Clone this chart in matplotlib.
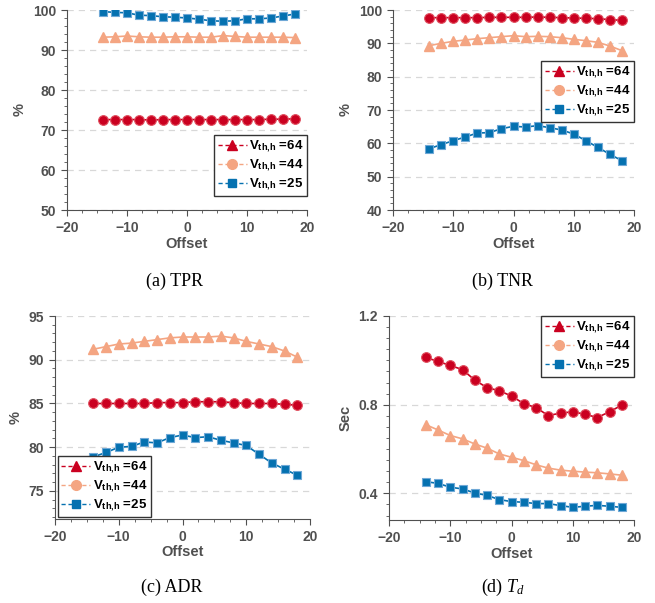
import numpy as np
import matplotlib.pyplot as plt
from matplotlib.lines import Line2D
from matplotlib.ticker import MultipleLocator

offset = [-14, -12, -10, -8, -6, -4, -2, 0, 2, 4, 6, 8, 10, 12, 14, 16, 18]

# (a) TPR
tpr_64 = [72.6, 72.6, 72.6, 72.6, 72.5, 72.6, 72.6, 72.6, 72.6, 72.6, 72.6, 72.6, 72.6, 72.6, 72.7, 72.7, 72.8]
tpr_44 = [93.2, 93.3, 93.5, 93.3, 93.2, 93.2, 93.3, 93.3, 93.2, 93.2, 93.6, 93.4, 93.2, 93.2, 93.2, 93.2, 93.1]
tpr_25 = [99.6, 99.4, 99.3, 98.7, 98.6, 98.3, 98.2, 98.0, 97.7, 97.3, 97.2, 97.3, 97.8, 97.8, 98.0, 98.5, 99.0]

# (b) TNR
tnr_64 = [97.7, 97.7, 97.7, 97.7, 97.7, 97.8, 97.8, 97.8, 97.8, 97.9, 97.8, 97.7, 97.6, 97.5, 97.4, 97.1, 96.9]
tnr_44 = [89.3, 90.0, 90.6, 91.0, 91.4, 91.7, 92.0, 92.3, 92.0, 92.1, 92.0, 91.7, 91.2, 90.8, 90.3, 89.2, 87.8]
tnr_25 = [58.4, 59.6, 60.8, 61.9, 63.1, 63.2, 64.4, 65.1, 64.9, 65.3, 64.7, 64.0, 62.8, 60.8, 58.8, 56.7, 54.8]

# (c) ADR
adr_64 = [85.0, 85.0, 85.0, 85.0, 85.0, 85.1, 85.1, 85.1, 85.2, 85.2, 85.2, 85.1, 85.0, 85.0, 85.0, 84.9, 84.8]
adr_44 = [91.2, 91.5, 91.8, 91.9, 92.1, 92.3, 92.5, 92.6, 92.6, 92.6, 92.7, 92.5, 92.1, 91.8, 91.5, 91.0, 90.3]
adr_25 = [78.9, 79.4, 80.0, 80.1, 80.6, 80.5, 81.1, 81.4, 81.1, 81.2, 80.8, 80.5, 80.2, 79.2, 78.2, 77.5, 76.8]

# (d) Td
td_64 = [1.013, 0.995, 0.977, 0.958, 0.911, 0.877, 0.863, 0.839, 0.805, 0.787, 0.751, 0.762, 0.768, 0.757, 0.742, 0.768, 0.798]
td_44 = [0.710, 0.686, 0.661, 0.646, 0.623, 0.604, 0.578, 0.563, 0.548, 0.529, 0.514, 0.505, 0.500, 0.496, 0.493, 0.488, 0.482]
td_25 = [0.453, 0.445, 0.428, 0.420, 0.402, 0.391, 0.372, 0.363, 0.360, 0.354, 0.354, 0.345, 0.337, 0.342, 0.346, 0.342, 0.337]

labels = [r'$\mathbf{V}_{\mathbf{th{,}h}}$ =64', r'$\mathbf{V}_{\mathbf{th{,}h}}$ =44',
          r'$\mathbf{V}_{\mathbf{th{,}h}}$ =25']
red, orange, blue = '#ca0020', '#f4a582', '#0571b0'
gray = '#505050'

plt.rcParams['font.family'] = 'Liberation Sans'
plt.rcParams['font.weight'] = 'bold'
plt.rcParams['mathtext.fontset'] = 'custom'
plt.rcParams['mathtext.bf'] = 'Liberation Sans:bold'
plt.rcParams['mathtext.rm'] = 'Liberation Serif:weight=normal'
plt.rcParams['mathtext.it'] = 'Liberation Serif:style=italic:weight=normal'

W, H = 655, 603
fig = plt.figure(figsize=(W / 100, H / 100), dpi=100)


def box(l, r, t, b):
    return [l / W, 1 - b / H, (r - l) / W, (b - t) / H]


def panel(rect, y64, y44, y25, ylim, ymaj, ymin, ylabel, legloc, anchor, caption, cx, cy):
    ax = fig.add_axes(rect)
    ax.plot(offset, y64, '-o', color=red, ms=7, mec='#e05060', mew=0.8, lw=1.2, zorder=3)
    ax.plot(offset, y44, '-^', color=orange, ms=7, mec=orange, lw=1.2, zorder=3)
    ax.plot(offset, y25, '-s', color=blue, ms=6, mec='#6fa8d6', mew=0.8, lw=1.2, zorder=3)
    ax.set_xlim(-20, 20)
    ax.set_ylim(*ylim)
    ax.xaxis.set_major_locator(MultipleLocator(10))
    ax.xaxis.set_minor_locator(MultipleLocator(2.5))
    ax.yaxis.set_major_locator(MultipleLocator(ymaj))
    ax.yaxis.set_minor_locator(MultipleLocator(ymin))
    ax.grid(axis='y', which='major', ls=(0, (5, 4)), color='#d8d8d8', lw=0.9)
    ax.set_axisbelow(True)
    for s in ['top', 'right']:
        ax.spines[s].set_visible(False)
    for s in ['left', 'bottom']:
        ax.spines[s].set_color(gray)
    ax.tick_params(which='both', direction='out', colors=gray, labelsize=10)
    ax.tick_params(which='major', length=4.5)
    ax.tick_params(which='minor', length=2.5)
    for t in ax.get_xticklabels() + ax.get_yticklabels():
        t.set_fontweight('bold')
    ax.set_xlabel('Offset', fontsize=10.5, color=gray, fontweight='bold', labelpad=1)
    ax.set_ylabel(ylabel, fontsize=10.5, color=gray, fontweight='bold', labelpad=4)
    handles = [
        Line2D([], [], color=red, ls=(0, (3, 2)), marker='^', ms=7, lw=1),
        Line2D([], [], color=orange, ls=(0, (3, 2)), marker='o', ms=7, lw=1),
        Line2D([], [], color=blue, ls=(0, (3, 2)), marker='s', ms=6, lw=1),
    ]
    leg = ax.legend(handles, labels, loc=legloc, bbox_to_anchor=anchor, fontsize=9.5,
                    frameon=True, fancybox=False, edgecolor='#333333', framealpha=1,
                    handlelength=2.2, handletextpad=0.2, labelspacing=0.2,
                    borderpad=0.25, borderaxespad=0)
    leg.get_frame().set_linewidth(1.0)
    fig.text(cx / W, 1 - cy / H, caption, ha='center', va='center',
             fontsize=13, family='Liberation Serif', fontweight='normal')
    return ax


panel(box(67, 307, 10, 210), tpr_64, tpr_44, tpr_25, (50, 100), 10, 2, '%',
      'lower right', (1.0, 0.07), '(a) TPR', 175, 281)
panel(box(393, 634, 10, 210), tnr_64, tnr_44, tnr_25, (40, 100), 10, 2, '%',
      'upper right', (1.0, 0.745), '(b) TNR', 502, 281)
panel(box(55, 310, 316, 519), adr_64, adr_44, adr_25, (71.8, 95), 5, 1, '%',
      'lower left', (0.012, 0.01), '(c) ADR', 172, 587)
panel(box(389, 634, 316, 520), td_64, td_44, td_25, (0.28, 1.2), 0.4, 0.05, 'Sec',
      'upper right', (1.0, 1.0), r'(d) $T_d$', 503, 587)

fig.savefig('out.png', dpi=100)
